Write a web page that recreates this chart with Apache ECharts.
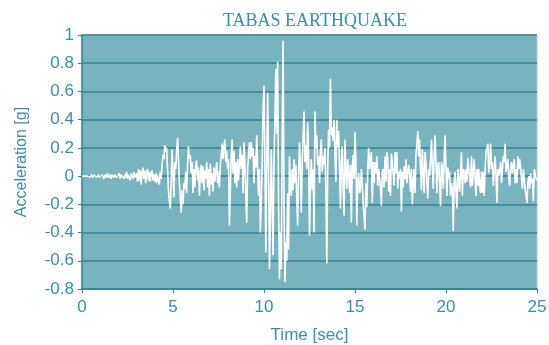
<!DOCTYPE html>
<html>
<head>
<meta charset="utf-8">
<script src="https://cdn.jsdelivr.net/npm/echarts@6/dist/echarts.min.js"></script>
<style>
  html, body { margin: 0; padding: 0; background: #ffffff; }
  #chart { width: 549px; height: 345px; }
</style>
</head>
<body>
<div id="chart"></div>
<script>
// Tabas earthquake ground acceleration record, sampled every 0.05 s (values in g)
const timeStep = 0.05;
const accel = [
  // 0 - 1 s
  0.00, 0.01, -0.01, 0.00, 0.01, -0.01, 0.00, 0.01, 0.00, -0.01, 0.01, 0.00, -0.01, 0.01, 0.00, 0.01, -0.01, 0.00, 0.01, -0.01,
  // 1 - 2 s
  0.00, -0.01, 0.01, 0.00, -0.02, 0.01, 0.00, -0.01, 0.02, -0.01, 0.00, 0.01, -0.02, 0.01, 0.00, -0.01, 0.01, 0.02, -0.01, 0.00,
  // 2 - 3 s
  -0.01, 0.02, -0.02, 0.01, 0.00, 0.02, -0.02, 0.01, -0.01, 0.03, -0.02, 0.01, 0.00, -0.03, 0.02, 0.01, -0.02, 0.03, -0.01, 0.00,
  // 3 - 4 s
  0.02, -0.04, 0.05, -0.03, 0.04, -0.06, 0.03, 0.06, -0.02, 0.04, -0.05, 0.02, 0.05, -0.03, 0.03, -0.04, 0.02, 0.04, -0.03, 0.01,
  // 4 - 5 s
  -0.04, 0.02, -0.05, 0.01, -0.03, -0.06, 0.03, -0.02, 0.08, 0.15, 0.12, 0.22, 0.17, 0.20, 0.05, -0.10, -0.18, -0.23, -0.05, 0.19,
  // 5 - 6 s
  0.02, -0.15, 0.10, 0.05, 0.18, 0.27, 0.12, -0.05, -0.15, -0.26, -0.10, -0.20, -0.05, -0.09, 0.03, -0.12, 0.08, 0.21, 0.12, 0.15,
  // 6 - 7 s
  0.02, 0.10, -0.12, 0.05, -0.08, 0.09, 0.11, -0.03, 0.06, -0.14, 0.02, 0.08, -0.05, 0.07, -0.10, 0.04, -0.02, 0.10, -0.08, 0.05,
  // 7 - 8 s
  -0.14, 0.09, -0.06, 0.02, -0.11, 0.06, -0.04, 0.03, 0.10, -0.05, 0.03, -0.08, 0.08, 0.15, 0.23, 0.12, 0.20, 0.26, 0.10, 0.18,
  // 8 - 9 s
  0.05, 0.12, -0.35, -0.10, 0.15, 0.26, 0.02, 0.18, -0.05, 0.10, -0.08, 0.12, -0.03, 0.08, 0.21, 0.05, 0.15, -0.12, 0.24, 0.10,
  // 9 - 10 s
  -0.15, -0.33, 0.05, 0.15, 0.24, 0.12, 0.24, 0.14, 0.20, -0.05, 0.14, 0.06, 0.29, 0.06, -0.14, 0.05, -0.40, -0.20, 0.10, 0.48,
  // 10 - 11 s
  0.64, 0.10, -0.54, 0.05, 0.59, 0.10, -0.66, -0.35, 0.19, -0.15, -0.56, 0.10, 0.40, 0.76, 0.30, 0.81, -0.20, -0.73, -0.40, -0.66,
  // 11 - 12 s
  0.30, 0.96, -0.20, -0.75, -0.47, -0.60, -0.12, -0.52, 0.14, -0.05, -0.14, 0.05, -0.10, 0.12, -0.05, 0.08, -0.15, -0.35, 0.02, 0.24,
  // 12 - 13 s
  0.05, -0.26, 0.10, 0.30, 0.46, 0.10, 0.22, 0.05, 0.38, 0.15, -0.42, -0.04, 0.12, -0.10, 0.05, -0.40, 0.46, 0.20, 0.29, 0.08,
  // 13 - 14 s
  0.14, -0.05, 0.18, 0.26, 0.03, 0.14, 0.08, 0.20, -0.10, -0.62, 0.05, 0.33, 0.20, 0.69, 0.29, 0.35, 0.25, 0.40, 0.15, -0.04,
  // 14 - 15 s
  0.40, 0.20, 0.32, 0.05, -0.23, 0.10, 0.21, -0.10, -0.28, 0.26, 0.05, -0.09, 0.12, 0.03, -0.12, 0.08, -0.33, 0.05, 0.15, -0.02,
  // 15 - 16 s
  0.31, 0.10, -0.35, -0.05, 0.02, -0.12, -0.09, 0.05, -0.05, -0.20, -0.21, -0.38, -0.05, -0.22, 0.05, 0.20, 0.05, 0.10, 0.17, -0.19,
  // 16 - 17 s
  0.10, -0.05, 0.10, 0.02, 0.14, -0.07, 0.05, 0.05, -0.08, -0.21, 0.03, 0.05, -0.08, 0.14, -0.04, 0.17, 0.12, -0.11, 0.05, -0.14,
  // 17 - 18 s
  0.16, 0.10, 0.09, -0.07, 0.17, 0.02, 0.17, -0.09, 0.03, -0.02, 0.05, -0.25, 0.03, -0.08, 0.07, -0.02, 0.12, -0.05, -0.04, 0.08,
  // 18 - 19 s
  0.02, -0.11, 0.05, -0.20, -0.05, 0.05, -0.12, 0.15, 0.22, 0.32, 0.14, 0.26, 0.05, -0.10, 0.19, 0.02, -0.12, 0.17, 0.10, -0.05,
  // 19 - 20 s
  -0.16, 0.05, 0.00, 0.12, 0.26, 0.05, -0.09, 0.15, 0.29, 0.10, -0.12, 0.08, 0.10, -0.05, -0.21, 0.10, 0.05, -0.09, 0.12, 0.29,
  // 20 - 21 s
  0.05, -0.14, 0.06, -0.02, 0.03, -0.14, -0.05, -0.09, -0.39, -0.05, 0.03, -0.12, -0.23, 0.05, 0.05, -0.11, 0.04, 0.17, -0.14, 0.05,
  // 21 - 22 s
  0.02, -0.05, 0.05, -0.04, 0.13, 0.05, 0.05, -0.08, 0.14, -0.07, -0.07, 0.12, 0.12, -0.14, 0.05, -0.07, 0.05, -0.07, -0.12, 0.03,
  // 22 - 23 s
  -0.12, 0.03, -0.14, 0.05, 0.17, 0.16, 0.23, 0.02, 0.10, 0.23, 0.05, 0.10, -0.07, 0.03, 0.14, 0.00, -0.19, 0.05, 0.00, 0.05,
  // 23 - 24 s
  0.10, -0.05, -0.04, 0.14, 0.10, 0.23, 0.03, 0.08, 0.12, -0.02, -0.07, 0.05, 0.10, 0.02, 0.03, 0.12, -0.05, 0.05, -0.05, 0.14,
  // 24 - 25 s
  0.05, 0.12, 0.06, -0.02, -0.09, 0.05, 0.05, -0.09, -0.14, -0.19, -0.05, 0.00, -0.09, 0.02, -0.05, -0.02, -0.18, 0.05, 0.02, -0.02,
  -0.03
];

// Axis ranges
const timeRange = [0, 25];
const timeTickStep = 5;
const accelRange = [-0.8, 1];
const accelTickStep = 0.2;

const titleText = 'TABAS EARTHQUAKE';
const xName = 'Time [sec]';
const yName = 'Acceleration [g]';

const teal = '#3b8ea5';
const gridTeal = '#2f8297';
const sans = '"Liberation Sans", Arial, sans-serif';

const points = accel.map((v, i) => [+(i * timeStep).toFixed(2), v]);

const chart = echarts.init(document.getElementById('chart'), null, { renderer: 'canvas' });
chart.setOption({
  animation: false,
  backgroundColor: '#ffffff',
  title: {
    text: titleText,
    left: 310,
    textAlign: 'center',
    top: 7,
    textStyle: {
      fontFamily: '"Liberation Serif", "DejaVu Serif", serif',
      fontWeight: 'normal',
      fontSize: 18,
      color: teal
    }
  },
  grid: {
    left: 82,
    right: 12,
    top: 35,
    bottom: 56,
    containLabel: false,
    outerBoundsMode: 'none',
    show: true,
    backgroundColor: '#7ab3c0',
    borderColor: '#a6cdd6',
    borderWidth: 1
  },
  xAxis: {
    type: 'value',
    min: timeRange[0],
    max: timeRange[1],
    interval: timeTickStep,
    name: xName,
    nameLocation: 'middle',
    nameGap: 38,
    nameTextStyle: { fontFamily: sans, fontSize: 17, color: teal },
    axisLine: { show: true, onZero: false, lineStyle: { color: gridTeal, width: 1.5 } },
    axisTick: { show: true, length: 4, lineStyle: { color: gridTeal } },
    axisLabel: { fontFamily: sans, fontSize: 17, color: teal, margin: 10 },
    splitLine: { show: false }
  },
  yAxis: {
    type: 'value',
    min: accelRange[0],
    max: accelRange[1],
    interval: accelTickStep,
    name: yName,
    nameLocation: 'middle',
    nameGap: 52,
    nameTextStyle: { fontFamily: sans, fontSize: 16, color: teal },
    axisLine: { show: true, lineStyle: { color: gridTeal, width: 1.5 } },
    axisTick: { show: true, length: 4, lineStyle: { color: gridTeal } },
    axisLabel: {
      fontFamily: sans,
      fontSize: 17,
      color: teal,
      margin: 8,
      formatter: v => String(Math.round(v * 10) / 10)
    },
    splitLine: { show: true, lineStyle: { color: gridTeal, width: 1.5 } }
  },
  series: [{
    type: 'line',
    data: points,
    showSymbol: false,
    symbol: 'none',
    lineStyle: { color: '#ffffff', width: 1.6 },
    z: 3
  }]
});
</script>
</body>
</html>
